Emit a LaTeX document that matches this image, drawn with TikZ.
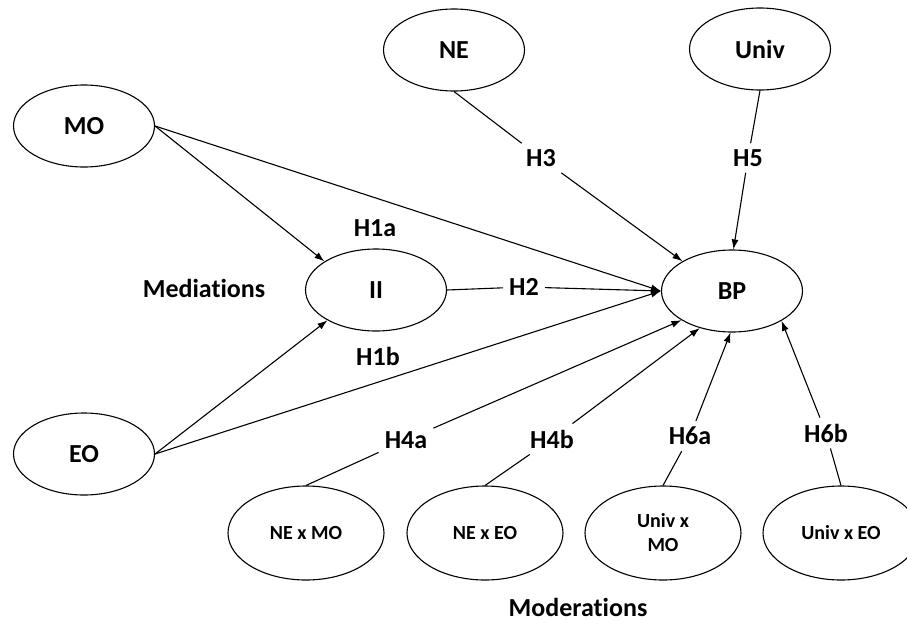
\documentclass[tikz,border=0pt]{standalone}
\usepackage{fontspec}
\setmainfont{Carlito}[Ligatures=CommonOff]
\usetikzlibrary{shapes.geometric,arrows.meta}
\begin{document}
\begin{tikzpicture}[x=1pt,y=-1pt,
  every node/.style={font=\bfseries\fontsize{26}{30}\selectfont},
  var/.style={ellipse,draw,line width=1.1pt,minimum width=141pt,minimum height=82pt,inner sep=0pt},
  modvar/.style={ellipse,draw,line width=1.1pt,minimum width=156pt,minimum height=94pt,inner sep=0pt,
    font=\bfseries\fontsize{20}{24}\selectfont,align=center},
  hyp/.style={inner sep=6pt},
  conn/.style={line width=1.1pt},
  arr/.style={conn,-{Latex[length=10pt,width=7pt]}}]
\useasboundingbox (0,0) rectangle (907,621);
\begin{scope}
\clip (0,0) rectangle (907,621);
% main constructs
\node[var] (MO) at (84,126) {MO};
\node[var] (EO) at (84,454) {EO};
\node[var] (II) at (376,290) {II};
\node[var] (BP) at (732,291) {BP};
\node[var] (NE) at (454,50) {NE};
\node[var] (Univ) at (760,49) {Univ};
% interaction terms
\node[modvar] (NEMO) at (306,533) {NE x MO};
\node[modvar] (NEEO) at (485,533) {NE x EO};
\node[modvar] (UMO) at (663,533) {Univ x\\MO};
\node[modvar] (UEO) at (841,533) {Univ x EO};
% free labels
\node (H1a) at (375,228) {H1a};
\node (H1b) at (378,356) {H1b};
\node (Med) at (204,288) {Mediations};
\node[anchor=base,inner sep=0pt] (Mod) at (578,616) {Moderations};
% hypothesis labels that break the connectors
\node[hyp] (H2) at (524,287) {H2};
\node[hyp] (H3) at (541,158) {H3};
\node[hyp] (H5) at (748,158) {H5};
\node[hyp] (H4a) at (406,440) {H4a};
\node[hyp] (H4b) at (552,439) {H4b};
\node[hyp] (H6a) at (690,436) {H6a};
\node[hyp] (H6b) at (826,433) {H6b};
% mediation paths
\draw[arr] (MO.east) -- (II.151);
\draw[arr] (EO.east) -- (II.212);
\draw[arr] (MO.east) -- (BP.west);
\draw[arr] (EO.east) -- (BP.west);
\draw[conn] (II.east) -- (H2);
\draw[arr] (H2) -- (BP.west);
% direct effects
\draw[conn] (NE.south) -- (H3);
\draw[arr] (H3) -- (BP.149);
\draw[conn] (Univ.south) -- (H5);
\draw[arr] (H5) -- (BP.88);
% moderations
\draw[conn] (NEMO.north) -- (H4a);
\draw[arr] (H4a) -- (BP.210);
\draw[conn] (NEEO.north) -- (H4b);
\draw[arr] (H4b) -- (BP.229);
\draw[conn] (UMO.north) -- (H6a);
\draw[arr] (H6a) -- (BP.268);
\draw[conn] (UEO.north) -- (H6b);
\draw[arr] (H6b) -- (BP.329);
\end{scope}
\end{tikzpicture}
\end{document}
